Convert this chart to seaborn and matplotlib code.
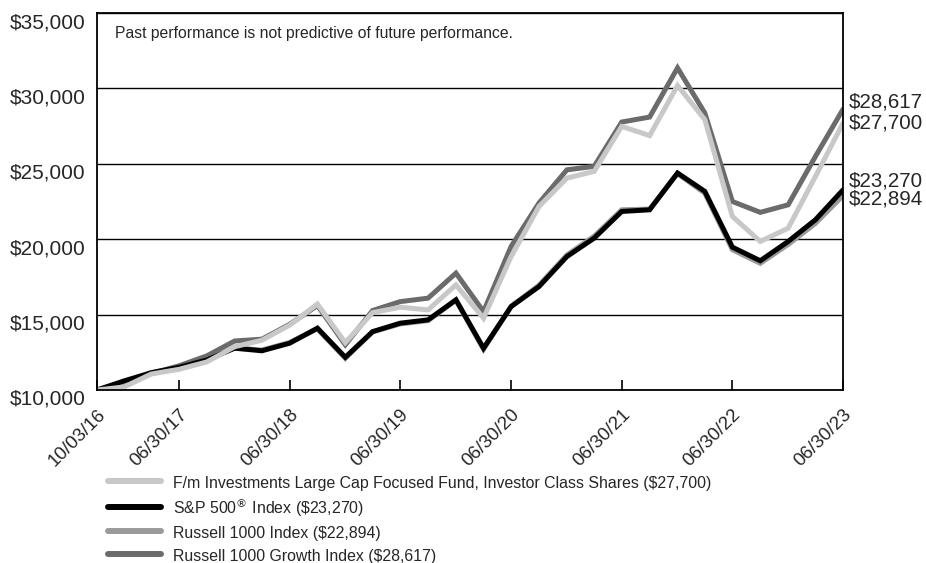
import pandas as pd
import seaborn as sns
import matplotlib.pyplot as plt
from matplotlib.lines import Line2D
from matplotlib.ticker import FuncFormatter

dates = ["2016-10-03", "2016-12-31", "2017-03-31", "2017-06-30", "2017-09-30",
         "2017-12-31", "2018-03-31", "2018-06-30", "2018-09-30", "2018-12-31",
         "2019-03-31", "2019-06-30", "2019-09-30", "2019-12-31", "2020-03-31",
         "2020-06-30", "2020-09-30", "2020-12-31", "2021-03-31", "2021-06-30",
         "2021-09-30", "2021-12-31", "2022-03-31", "2022-06-30", "2022-09-30",
         "2022-12-31", "2023-03-31", "2023-06-30"]

fund = [10000, 10200, 11060, 11370, 11860, 12870, 13300, 14300, 15700, 13140,
        15130, 15490, 15310, 16970, 14760, 18850, 22170, 24050, 24500, 27480,
        26870, 30190, 27930, 21510, 19850, 20730, 24160, 27700]
sp500 = [10000, 10600, 11150, 11500, 12000, 12770, 12600, 13100, 14100, 12170,
         13870, 14430, 14650, 15980, 12770, 15530, 16860, 18850, 20070, 21840,
         21950, 24390, 23170, 19470, 18570, 19850, 21290, 23270]
r1000 = [10000, 10550, 11100, 11480, 12020, 12800, 12650, 13150, 14050, 12100,
         13850, 14380, 14600, 15950, 12700, 15550, 16950, 18950, 20200, 21950,
         22000, 24350, 23050, 19300, 18400, 19650, 21050, 22894]
r1000g = [10000, 10300, 11100, 11600, 12260, 13250, 13370, 14350, 15600, 13000,
          15270, 15860, 16090, 17750, 15200, 19520, 22400, 24600, 24830, 27770,
          28100, 31360, 28370, 22500, 21780, 22280, 25490, 28617]

series_names = [
    "F/m Investments Large Cap Focused Fund, Investor Class Shares (\\$27,700)",
    "S&P 500$^{®}$ Index (\\$23,270)",
    "Russell 1000 Index (\\$22,894)",
    "Russell 1000 Growth Index (\\$28,617)",
]
colors = ["#c8c8c8", "#000000", "#9a9a9a", "#6b6b6b"]
end_labels = ["$27,700", "$23,270", "$22,894", "$28,617"]
label_offsets = [0, 6.5, -2.7, 5.5]

tick_dates = ["2016-10-03", "2017-06-30", "2018-06-30", "2019-06-30",
              "2020-06-30", "2021-06-30", "2022-06-30", "2023-06-30"]
tick_labels = ["10/03/16", "06/30/17", "06/30/18", "06/30/19",
               "06/30/20", "06/30/21", "06/30/22", "06/30/23"]

df = pd.DataFrame({
    "date": pd.to_datetime(dates * 4),
    "value": fund + sp500 + r1000 + r1000g,
    "series": sum([[n] * len(dates) for n in series_names], []),
})

sns.set_theme(style="white")
plt.rcParams['font.family'] = ['Liberation Sans', 'DejaVu Sans']

fig = plt.figure(figsize=(9.26, 5.63), dpi=100)
ax = fig.add_axes([0.1048, 0.3073, 0.8056, 0.6696])

# draw back to front: growth, russell 1000, s&p, fund
order = [3, 2, 1, 0]
for k in order:
    sub = df[df["series"] == series_names[k]]
    sns.lineplot(data=sub, x="date", y="value", color=colors[k],
                 linewidth=3.6, ax=ax, legend=False, solid_joinstyle="miter")

ax.set_xlim(pd.Timestamp(dates[0]), pd.Timestamp(dates[-1]))
ax.set_ylim(10000, 35000)
ax.set_yticks(range(10000, 35001, 5000))
ax.yaxis.set_major_formatter(FuncFormatter(lambda v, p: f"${v:,.0f}"))
ax.set_xticks(pd.to_datetime(tick_dates))
ax.set_xticklabels(tick_labels, rotation=45, ha="right", va="top",
                   rotation_mode="anchor", fontsize=13.5)
ax.set_xlabel("")
ax.set_ylabel("")
ax.grid(axis="y", color="black", linewidth=1)
ax.set_axisbelow(True)
for s in ax.spines.values():
    s.set_color("black")
    s.set_linewidth(1.3)

ax.tick_params(axis="x", direction="in", length=7, width=1.2, color="black",
               pad=11.4, bottom=True)
ax.tick_params(axis="y", length=0, pad=8.5, labelsize=15)
for lab in ax.get_yticklabels():
    lab.set_va("top")

ax.text(0.024, 0.934, "Past performance is not predictive of future performance.",
        transform=ax.transAxes, fontsize=11.3, ha="left", va="baseline")

last_vals = [fund[-1], sp500[-1], r1000[-1], r1000g[-1]]
for lbl, v, off in zip(end_labels, last_vals, label_offsets):
    ax.annotate(lbl, xy=(pd.Timestamp(dates[-1]), v), xytext=(4, off),
                textcoords="offset points", ha="left", va="center",
                fontsize=14.8, annotation_clip=False)

handles = [Line2D([0], [0], color=c, linewidth=4.3) for c in colors]
fig.legend(handles, series_names, loc="upper left",
           bbox_to_anchor=(0.1166, 0.159), frameon=False, fontsize=11.4,
           handlelength=3.35, handletextpad=0.76, handleheight=1.45,
           labelspacing=0.27, borderaxespad=0, borderpad=0)

fig.savefig("out.png", dpi=100)
